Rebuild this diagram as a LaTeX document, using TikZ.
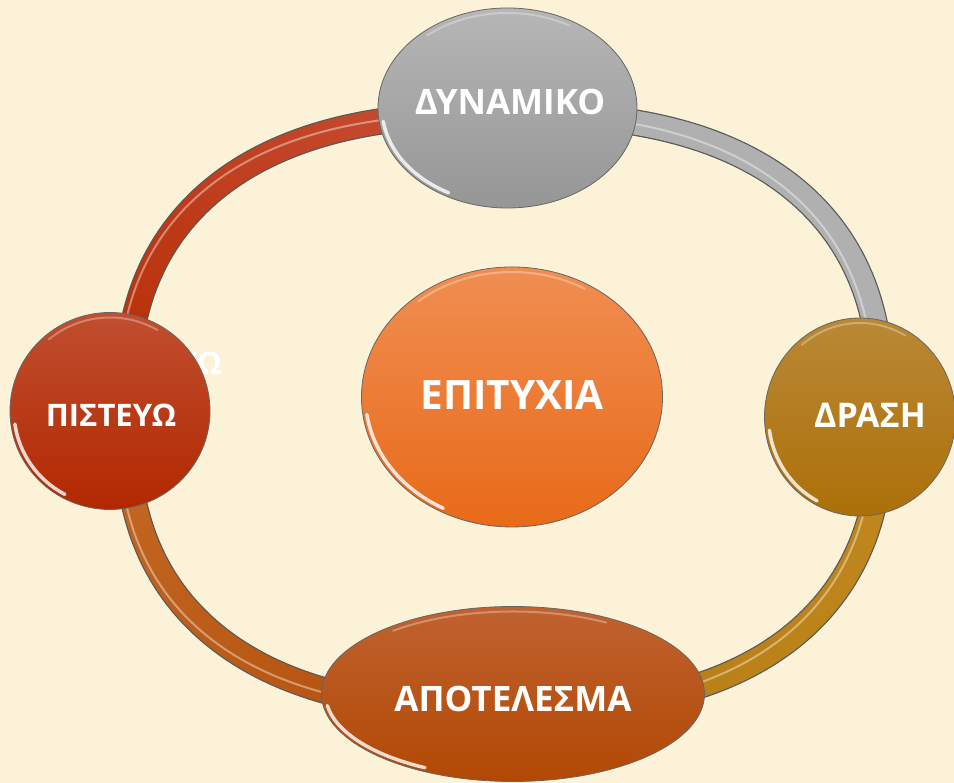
\documentclass[tikz,border=0pt]{standalone}
\usepackage{fontspec}
\setmainfont{Open Sans}
\usetikzlibrary{shapes.geometric,calc}
\definecolor{bgc}{RGB}{252,242,216}
\definecolor{redA}{RGB}{184,46,6}
\definecolor{redB}{RGB}{198,78,52}
\definecolor{grayR}{RGB}{176,176,176}
\definecolor{goldA}{RGB}{192,136,30}
\definecolor{goldB}{RGB}{184,126,22}
\definecolor{brA}{RGB}{178,80,12}
\definecolor{brB}{RGB}{196,104,36}
\definecolor{dynT}{RGB}{182,182,182}
\definecolor{dynB}{RGB}{150,150,150}
\definecolor{draT}{RGB}{186,136,54}
\definecolor{draB}{RGB}{172,112,8}
\definecolor{apoT}{RGB}{192,98,48}
\definecolor{apoB}{RGB}{178,72,4}
\definecolor{pisT}{RGB}{192,78,48}
\definecolor{pisB}{RGB}{178,40,0}
\definecolor{epiT}{RGB}{240,142,82}
\definecolor{epiB}{RGB}{232,106,24}
\tikzset{
  declare function={sx(\t)=504+378*sign(cos(\t))*abs(cos(\t))^0.8; sy(\t)=371+298*sign(sin(\t))*abs(sin(\t))^0.8;},
  blob/.style={ellipse, inner sep=0pt, draw=black!60, line width=0.8pt},
  lab/.style={text=white, font=\bfseries\fontsize{#1}{#1}\selectfont, anchor=base, inner sep=0pt},
  shine/.style={white, line width=3.5pt, opacity=0.8, line cap=round},
  topshine/.style={white, line width=2pt, opacity=0.3, line cap=round}
}
\newcommand\glossy[3]{%
  \draw[shine] ($(#1.center)+(188:#2-4 and #3-4)$) arc[start angle=188, end angle=242, x radius=#2-4, y radius=#3-4];
  \draw[topshine] ($(#1.center)+(60:#2-5 and #3-5)$) arc[start angle=60, end angle=130, x radius=#2-5, y radius=#3-5];
}
\newcommand\ringpiece[3]{% start, colour A, colour B
  \foreach \i in {0,...,29}{
    \pgfmathsetmacro\a{#1-3*\i}
    \pgfmathsetmacro\b{\a-3.1}
    \pgfmathtruncatemacro\p{100-100*\i/29}
    \draw[line width=24pt, color={#2!\p!#3}] plot[domain=\a:\b, samples=4] ({sx(\x)},{sy(\x)});
  }%
}
\begin{document}
\begin{tikzpicture}[x=1pt,y=1pt]
\useasboundingbox (0,0) rectangle (954,783);
\fill[bgc] (0,0) rectangle (954,783);
% ring
\draw[black!65, line width=26.5pt] plot[domain=0.25:359.75, samples=240] ({sx(\x)},{sy(\x)}) -- cycle;
\ringpiece{179.9}{redA}{redB}
\ringpiece{89.9}{grayR}{grayR}
\ringpiece{-0.1}{goldA}{goldB}
\ringpiece{269.9}{brA}{brB}
\draw[white, opacity=0.4, line width=2pt, shift={(-8,0)}] plot[domain=0.25:359.75, samples=240] ({sx(\x)},{sy(\x)}) -- cycle;
% hidden copy of the label behind the left circle
\node[lab=31, anchor=base east] (ghost) at (222,408) {ΠΙΣΤΕΥΩ};
% nodes
\node[blob, minimum width=259pt, minimum height=200pt, top color=dynT, bottom color=dynB] (dyn) at (507.5,675) {};
\node[blob, minimum width=191pt, minimum height=198pt, top color=draT, bottom color=draB] (dra) at (860,366) {};
\node[blob, minimum width=383pt, minimum height=175pt, top color=apoT, bottom color=apoB] (apo) at (513,89) {};
\node[blob, minimum width=200pt, minimum height=197pt, top color=pisT, bottom color=pisB] (pis) at (110,372) {};
\node[blob, minimum width=301pt, minimum height=260pt, top color=epiT, bottom color=epiB] (epi) at (512,386) {};
\glossy{dyn}{129.5}{100}
\glossy{dra}{95.5}{99}
\glossy{apo}{191.5}{87.5}
\glossy{pis}{100}{98.5}
\glossy{epi}{150.5}{130}
% labels
\node[lab=35] (tdyn) at (510,668) {ΔΥΝΑΜΙΚΟ};
\node[lab=40.5] (tepi) at (512,373) {ΕΠΙΤΥΧΙΑ};
\node[lab=35] (tapo) at (513,71) {ΑΠΟΤΕΛΕΣΜΑ};
\node[lab=31] (tpis) at (111,356) {ΠΙΣΤΕΥΩ};
\node[lab=34] (tdra) at (870,355) {ΔΡΑΣΗ};
\end{tikzpicture}
\end{document}
